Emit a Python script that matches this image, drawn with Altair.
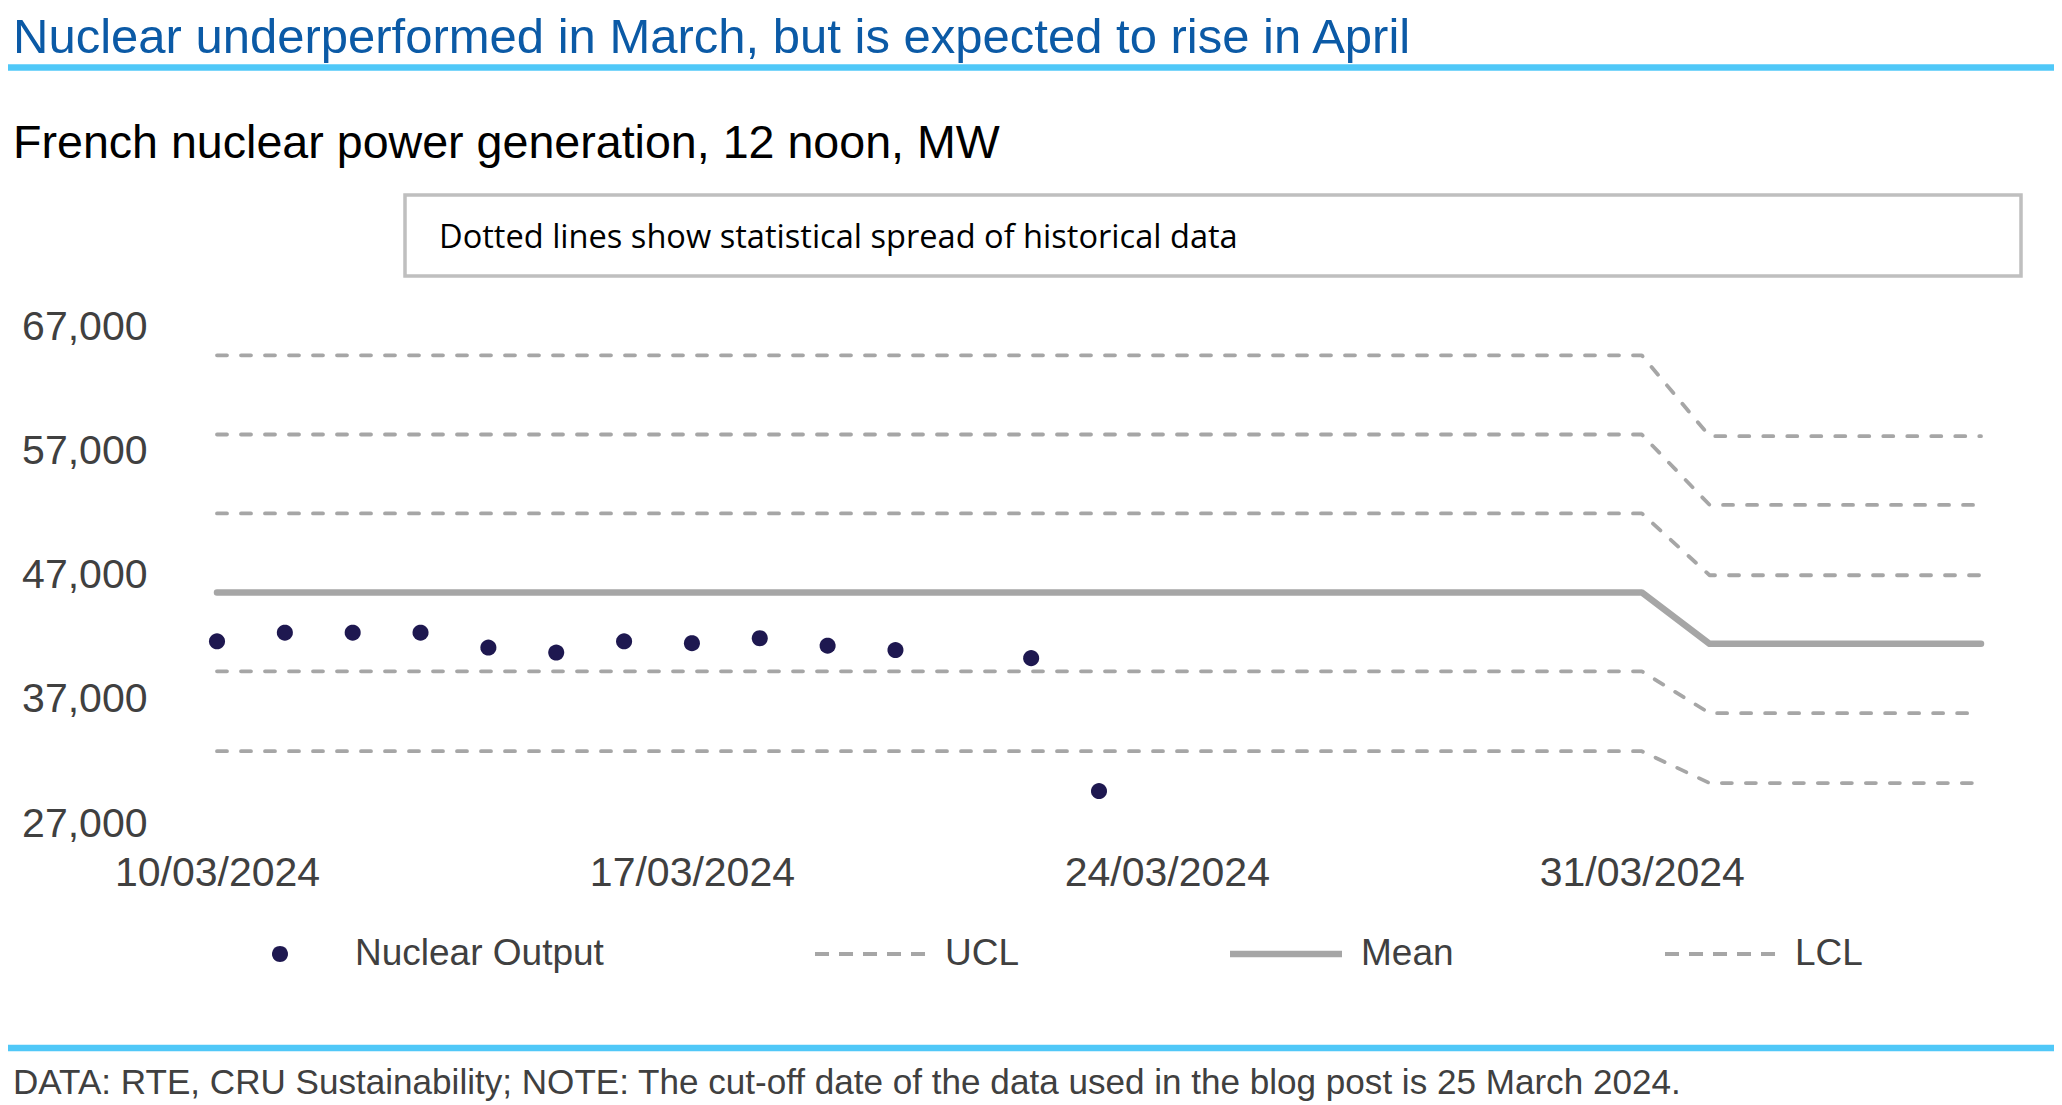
import math
import altair as alt
import pandas as pd

# ---------------- text ----------------
title_text = "Nuclear underperformed in March, but is expected to rise in April"
subtitle_text = "French nuclear power generation, 12 noon, MW"
note_text = "Dotted lines show statistical spread of historical data"
footer_text = ("DATA: RTE, CRU Sustainability; NOTE: The cut-off date of the data "
               "used in the blog post is 25 March 2024.")

# ---------------- data ----------------
point_dates = ["2024-03-10", "2024-03-11", "2024-03-12", "2024-03-13", "2024-03-14",
               "2024-03-15", "2024-03-16", "2024-03-17", "2024-03-18", "2024-03-19",
               "2024-03-20", "2024-03-22", "2024-03-23"]
point_values = [41700, 42400, 42400, 42400, 41200, 40800, 41700, 41550, 41950,
                41350, 41000, 40350, 29650]

limit_dates = ["2024-03-10", "2024-03-31", "2024-04-01", "2024-04-05"]
mean_before = 45640
mean_after = 41500
band_names = ["UCL 3", "UCL 2", "UCL 1", "LCL 1", "LCL 2"]
band_before = [64720, 58350, 52000, 39290, 32860]
band_after = [58210, 52680, 47020, 35920, 30290]

series_names = ["Nuclear Output", "UCL", "Mean", "LCL"]
series_colors = ["#1E1850", "#A6A6A6", "#A6A6A6", "#A6A6A6"]

y_ticks = [27000, 37000, 47000, 57000, 67000]
x_ticks = ["2024-03-10", "2024-03-17", "2024-03-24", "2024-03-31"]
x_domain = ["2024-03-10", "2024-04-05"]


def ms(d):
    return int(pd.Timestamp(d, tz="UTC").value // 10**6)


# ---------------- tables ----------------
points_df = pd.DataFrame({
    "date": [ms(d) for d in point_dates],
    "value": point_values,
    "series": ["Nuclear Output"] * len(point_values),
})

band_rows = []
for name, b, a in zip(band_names, band_before, band_after):
    for d, v in zip(limit_dates, [b, b, a, a]):
        band_rows.append({"date": ms(d), "value": v, "line": name})
bands_df = pd.DataFrame(band_rows)

mean_df = pd.DataFrame({
    "date": [ms(d) for d in limit_dates],
    "value": [mean_before, mean_before, mean_after, mean_after],
})

# ---------------- legend symbol paths (unit square, scaled by symbol size) ----------------
r = 0.143
circle_path = "M" + " L".join(
    f"{r * math.cos(2 * math.pi * i / 32):.4f},{r * math.sin(2 * math.pi * i / 32):.4f}"
    for i in range(32)) + " Z"
h = 0.036
dash_parts = []
start = -0.982
for i in range(5):
    x0 = start + i * (0.25 + 0.1786)
    x1 = x0 + 0.25
    dash_parts.append(f"M{x0:.4f},{-h} L{x1:.4f},{-h} L{x1:.4f},{h} L{x0:.4f},{h} Z")
dash_path = " ".join(dash_parts)
hm = 0.06
solid_path = f"M-1,{-hm} L1,{-hm} L1,{hm} L-1,{hm} Z"
series_shapes = [circle_path, dash_path, solid_path, dash_path]

# ---------------- layout ----------------
PLOT_W = 1764
PLOT_H = 497
PAD = {"left": 209, "top": 319, "right": 73, "bottom": 277}
BLUE = "#50C8F8"
FONT = "Liberation Sans"

x_enc = alt.X(
    "date:T",
    scale=alt.Scale(type="utc", domain=[ms(d) for d in x_domain], nice=False),
    axis=alt.Axis(values=[ms(d) for d in x_ticks], format="%d/%m/%Y", title=None,
                  domain=False, ticks=False, grid=False, labelFont=FONT,
                  labelFontSize=41, labelColor="#404040", labelPadding=61,
                  labelBaseline="alphabetic", labelFlush=False, labelOverlap=False,
                  labelLimit=500),
)
y_enc = alt.Y(
    "value:Q",
    scale=alt.Scale(domain=[27000, 67000], nice=False, zero=False),
    axis=alt.Axis(values=y_ticks, format=",.0f", title=None, domain=False,
                  ticks=False, grid=False, labelFont=FONT, labelFontSize=41,
                  labelColor="#404040", labelPadding=70, labelLimit=500),
)

legend = alt.Legend(
    title=None, orient="none", legendX=7, legendY=571, direction="horizontal",
    columnPadding=210, labelOffset=19, labelFont=FONT, labelFontSize=37,
    labelColor="#404040", labelLimit=500, symbolSize=12544, symbolStrokeWidth=0,
    padding=0,
)

bands = alt.Chart(bands_df).mark_line(
    color="#A6A6A6", strokeWidth=3.8, strokeDash=[10, 14], strokeCap="round",
    strokeJoin="round",
).encode(x=x_enc, y=y_enc, detail="line:N")

mean = alt.Chart(mean_df).mark_line(
    color="#A6A6A6", strokeWidth=6.5, strokeCap="round", strokeJoin="round",
).encode(x=x_enc, y=y_enc)

points = alt.Chart(points_df).mark_point(filled=True, size=12544, opacity=1).encode(
    x=x_enc, y=y_enc,
    color=alt.Color("series:N", scale=alt.Scale(domain=series_names, range=series_colors),
                    legend=legend),
    shape=alt.Shape("series:N", scale=alt.Scale(domain=series_names, range=series_shapes),
                    legend=legend),
)

one = pd.DataFrame({"t": [0]})


def text_layer(txt, x, y, size, color, font=FONT):
    return alt.Chart(pd.DataFrame({"t": [txt]})).mark_text(
        align="left", baseline="alphabetic", font=font, fontSize=size, color=color,
        limit=3000,
    ).encode(text="t:N", x=alt.value(x), y=alt.value(y))


title = text_layer(title_text, -204, -274.5, 49, "#0B5AA6")
subtitle = text_layer(subtitle_text, -204, -169, 46.6, "#000000")
note = text_layer(note_text, 222, -79, 32.6, "#000000", font="Open Sans")
footer = text_layer(footer_text, -204, 767, 35.1, "#404040")

top_rule = alt.Chart(one).mark_rule(color=BLUE, strokeWidth=6.5).encode(
    x=alt.value(-209), x2=alt.value(PLOT_W + 80), y=alt.value(-259.5))
bottom_rule = alt.Chart(one).mark_rule(color=BLUE, strokeWidth=6.5).encode(
    x=alt.value(-209), x2=alt.value(PLOT_W + 80), y=alt.value(721))
box = alt.Chart(one).mark_rect(fill="white", stroke="#BFBFBF", strokeWidth=3.5).encode(
    x=alt.value(188), x2=alt.value(1804), y=alt.value(-132), y2=alt.value(-51))

chart = alt.layer(
    top_rule, bottom_rule, box, title, subtitle, note, footer, bands, mean, points,
).properties(
    width=PLOT_W, height=PLOT_H, padding=PAD, background="white",
    autosize=alt.AutoSizeParams(type="none"),
).configure_view(strokeWidth=0, stroke=None)

chart.save("out.html", embed_options={"renderer": "svg", "actions": False})
